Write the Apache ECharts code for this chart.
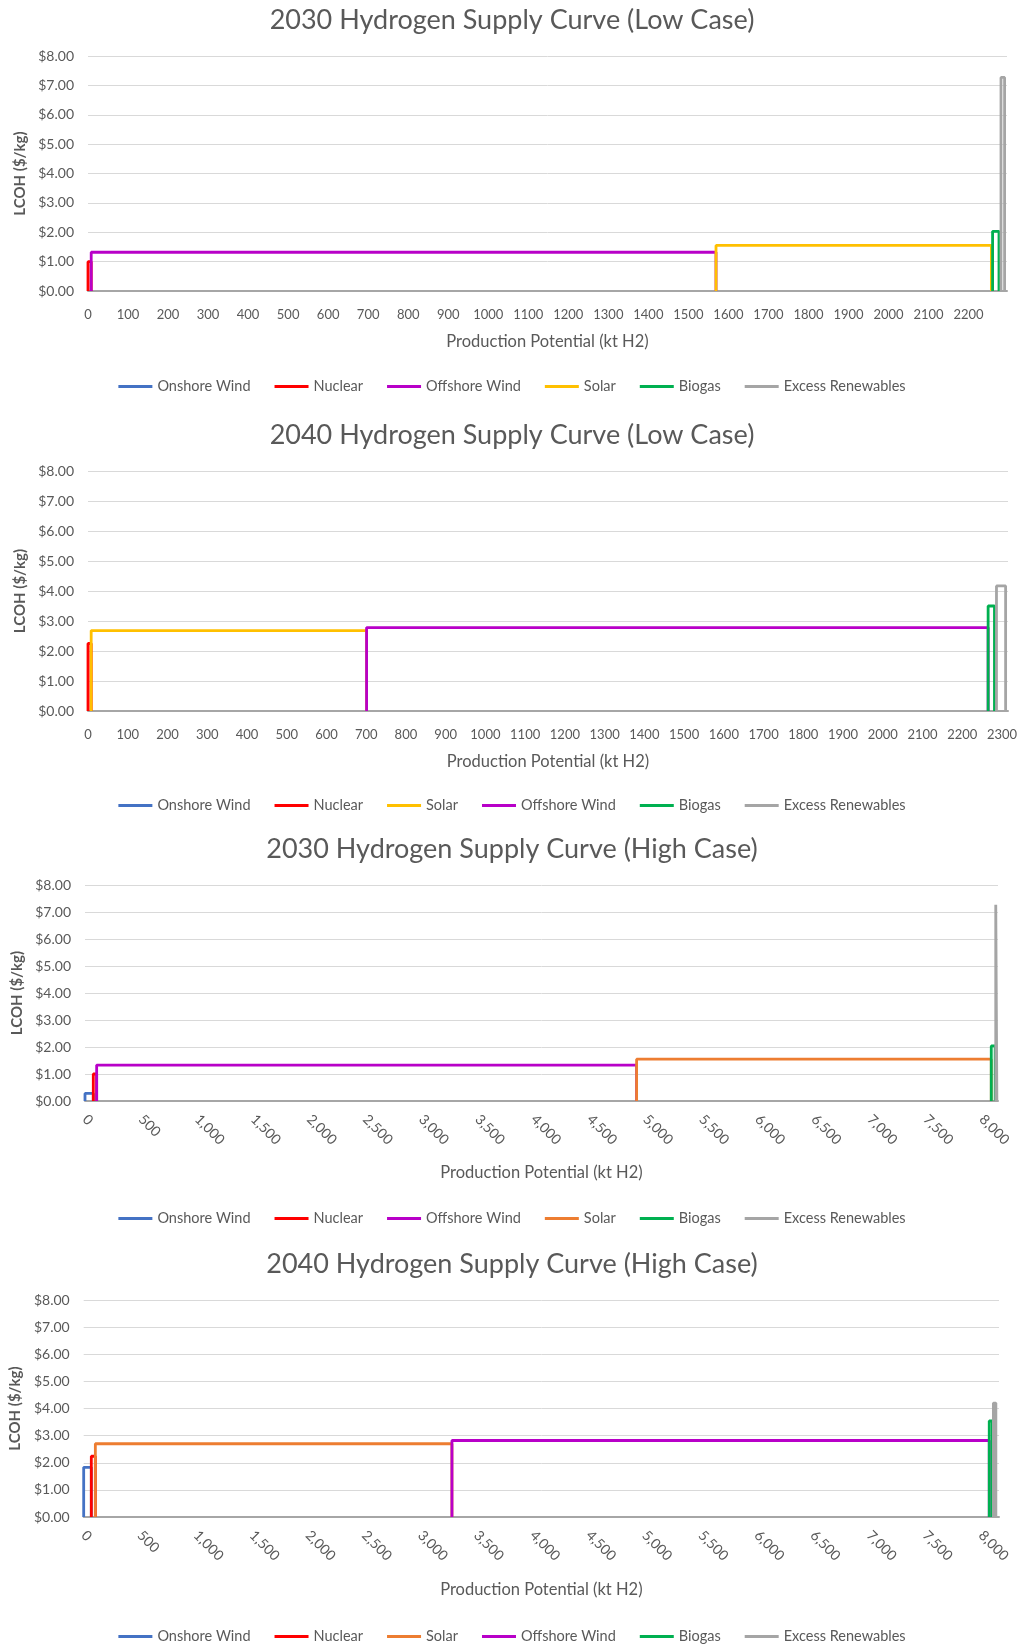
<!DOCTYPE html>
<html>
<head>
<meta charset="utf-8">
<title>Hydrogen Supply Curves</title>
<script src="https://cdn.jsdelivr.net/npm/echarts@6/dist/echarts.min.js"></script>
<style>
  html, body { margin: 0; padding: 0; background: #fff; }
  .wrap { position: relative; width: 1024px; height: 1648px; }
  .chart { position: absolute; left: 0; width: 1024px; }
</style>
</head>
<body>
<div class="wrap">
  <div id="low2030" class="chart" style="top:0;height:415px"></div>
  <div id="low2040" class="chart" style="top:415px;height:415px"></div>
  <div id="high2030" class="chart" style="top:830px;height:415px"></div>
  <div id="high2040" class="chart" style="top:1245px;height:403px"></div>
</div>
<script>
// legend / series order for each chart
const names2030 = ['Onshore Wind', 'Nuclear', 'Offshore Wind', 'Solar', 'Biogas', 'Excess Renewables'];
const names2040 = ['Onshore Wind', 'Nuclear', 'Solar', 'Offshore Wind', 'Biogas', 'Excess Renewables'];

// each block: start / end of cumulative production (kt H2) and LCOH ($/kg)
const low2030Start = [null, 0, 8, 1569, 2260, 2281];
const low2030End = [null, 8, 1569, 2257, 2276, 2290];
const low2030Cost = [null, 1.0, 1.32, 1.55, 2.03, 7.27];

const low2040Start = [null, 0, 8, 701, 2265, 2286];
const low2040End = [null, 8, 701, 2265, 2281, 2309];
const low2040Cost = [null, 2.25, 2.68, 2.78, 3.5, 4.17];

const high2030Start = [0, 74, 104, 4921, 8085, 8125];
const high2030End = [74, 104, 4921, 8085, 8120, 8135];
const high2030Cost = [0.28, 1.0, 1.33, 1.55, 2.04, 7.27];

const high2040Start = [0, 68, 104, 3283, 8073, 8110];
const high2040End = [68, 104, 3283, 8073, 8100, 8132];
const high2040Cost = [1.83, 2.24, 2.7, 2.82, 3.54, 4.2];

const colorMap = {
  'Onshore Wind': '#4472C4',
  'Nuclear': '#FF0000',
  'Offshore Wind': '#B800C8',
  'Solar': '#FFC000',
  'Biogas': '#00B050',
  'Excess Renewables': '#A5A5A5'
};
const solarHigh = '#ED7D31';

const FONT = 'Lato, "Open Sans", sans-serif';
const GREY = '#595959';

const makeChart = (id, cfg) => {
  const chart = echarts.init(document.getElementById(id));
  const series = cfg.names.map((name, i) => {
    let data = [];
    if (cfg.start[i] !== null) {
      data = [
        [cfg.start[i], 0],
        [cfg.start[i], cfg.cost[i]],
        [cfg.end[i], cfg.cost[i]],
        [cfg.end[i], 0]
      ];
    }
    let color = colorMap[name];
    if (name === 'Solar' && cfg.high) color = solarHigh;
    return {
      name: name,
      type: 'line',
      showSymbol: false,
      symbol: 'none',
      clip: false,
      color: color,
      lineStyle: { color: color, width: 2.8 },
      data: data
    };
  });

  const xLabel = cfg.high
    ? { rotate: -45, margin: 16, fontSize: 14, formatter: (v) => v.toLocaleString('en-US') }
    : { margin: 17, fontSize: 13, formatter: (v) => String(v) };

  const option = {
    animation: false,
    textStyle: { fontFamily: FONT },
    title: {
      text: cfg.title,
      left: 'center',
      top: cfg.titleTop,
      textStyle: { fontFamily: FONT, fontSize: 27, fontWeight: 'normal', color: GREY }
    },
    legend: {
      data: cfg.names,
      left: 'center',
      top: cfg.legendTop,
      icon: 'rect',
      itemWidth: 34,
      itemHeight: 3,
      itemGap: 24,
      textStyle: { fontFamily: FONT, fontSize: 14.5, color: GREY }
    },
    grid: { left: cfg.left, right: cfg.right, top: cfg.top, bottom: cfg.bottom },
    xAxis: {
      type: 'value',
      min: 0,
      max: cfg.xMax,
      interval: cfg.interval,
      name: 'Production Potential (kt H2)',
      nameLocation: 'middle',
      nameGap: cfg.nameGap,
      nameTextStyle: { fontFamily: FONT, fontSize: 16.5, color: GREY },
      axisLine: { show: true, lineStyle: { color: '#A6A6A6', width: 2 } },
      axisTick: { show: false },
      splitLine: { show: false },
      axisLabel: Object.assign({
        showMaxLabel: false,
        fontFamily: FONT,
        color: GREY
      }, xLabel)
    },
    yAxis: {
      type: 'value',
      min: 0,
      max: 8,
      interval: 1,
      name: 'LCOH ($/kg)',
      nameLocation: 'middle',
      nameGap: cfg.left - 28,
      nameTextStyle: { fontFamily: FONT, fontSize: 15, fontWeight: 'bold', color: GREY },
      axisLine: { show: false },
      axisTick: { show: false },
      splitLine: { lineStyle: { color: '#D9D9D9', width: 1 } },
      axisLabel: {
        margin: 14,
        fontFamily: FONT,
        fontSize: 14,
        color: GREY,
        formatter: (v) => '$' + v.toFixed(2)
      }
    },
    series: series
  };
  chart.setOption(option);
  return chart;
};

makeChart('low2030', {
  title: '2030 Hydrogen Supply Curve (Low Case)',
  names: names2030, start: low2030Start, end: low2030End, cost: low2030Cost,
  high: false, xMax: 2296, interval: 100,
  left: 88, right: 17, top: 56, bottom: 124,
  titleTop: 2, legendTop: 374, nameGap: 42
});

makeChart('low2040', {
  title: '2040 Hydrogen Supply Curve (Low Case)',
  names: names2040, start: low2040Start, end: low2040End, cost: low2040Cost,
  high: false, xMax: 2315, interval: 100,
  left: 88, right: 16, top: 56, bottom: 119,
  titleTop: 2, legendTop: 378, nameGap: 42
});

makeChart('high2030', {
  title: '2030 Hydrogen Supply Curve (High Case)',
  names: names2030, start: high2030Start, end: high2030End, cost: high2030Cost,
  high: true, xMax: 8145, interval: 500,
  left: 85, right: 26, top: 55, bottom: 144,
  titleTop: 1, legendTop: 376, nameGap: 63
});

makeChart('high2040', {
  title: '2040 Hydrogen Supply Curve (High Case)',
  names: names2040, start: high2040Start, end: high2040End, cost: high2040Cost,
  high: true, xMax: 8160, interval: 500,
  left: 83, right: 25, top: 55, bottom: 131,
  titleTop: 1, legendTop: 379, nameGap: 64
});
</script>
</body>
</html>
